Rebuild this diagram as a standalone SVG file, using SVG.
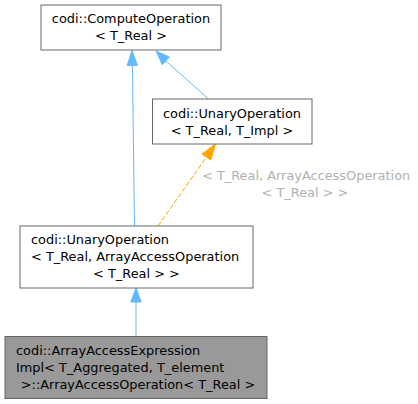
<svg xmlns="http://www.w3.org/2000/svg" width="418" height="404" viewBox="0 0 418 404">
<style>
text{font-family:"DejaVu Sans","Liberation Sans",sans-serif;font-size:12.9px;fill:#000}
.node{fill:#fff;stroke:#666;stroke-width:1}
.cur{fill:#999;stroke:#666;stroke-width:1}
.e{fill:none;stroke:#63b8ff;stroke-width:1}
.eh{fill:#63b8ff;stroke:#63b8ff}
.o{fill:none;stroke:#ffa500;stroke-width:1;stroke-dasharray:5,2}
.oh{fill:#ffa500;stroke:#ffa500}
.lbl{fill:#b0b0b0}
</style>
<rect width="418" height="404" fill="#fff"/>
<g id="edges">
<path class="e" d="M134.5,226 L132.4,65"/>
<polygon class="eh" points="127.2,65.5 132,50.5 137.5,65.3"/>
<path class="e" d="M208.5,99 L166,61"/>
<polygon class="eh" points="162.3,64.8 156,51 169.3,57"/>
<path class="o" d="M158,226 L206.5,157"/>
<polygon class="oh" points="202,154 215.5,144 210.8,160"/>
<text class="lbl" x="202" y="180">&lt; T_Real, ArrayAccessOperation</text>
<text class="lbl" x="305" y="197" text-anchor="middle">&lt; T_Real &gt; &gt;</text>
<path class="e" d="M136,336.5 L136,302"/>
<polygon class="eh" points="130.8,302 136,288 141.2,302"/>
</g>
<g id="node1">
<rect class="node" x="41" y="5" width="180" height="45"/>
<text x="131" y="23" text-anchor="middle">codi::ComputeOperation</text>
<text x="131" y="40" text-anchor="middle">&lt; T_Real &gt;</text>
</g>
<g id="node2">
<rect class="node" x="152.5" y="99" width="159.5" height="45"/>
<text x="232" y="117.5" text-anchor="middle">codi::UnaryOperation</text>
<text x="232" y="134.5" text-anchor="middle">&lt; T_Real, T_Impl &gt;</text>
</g>
<g id="node3">
<rect class="node" x="20" y="226" width="233" height="62"/>
<text x="31" y="244">codi::UnaryOperation</text>
<text x="31" y="261">&lt; T_Real, ArrayAccessOperation</text>
<text x="136.5" y="278" text-anchor="middle">&lt; T_Real &gt; &gt;</text>
</g>
<g id="node4">
<rect class="cur" x="5" y="336.5" width="262" height="62"/>
<text x="16" y="355">codi::ArrayAccessExpression</text>
<text x="16" y="372">Impl&lt; T_Aggregated, T_element</text>
<text x="138" y="389" text-anchor="middle"> &gt;::ArrayAccessOperation&lt; T_Real &gt;</text>
</g>
</svg>
